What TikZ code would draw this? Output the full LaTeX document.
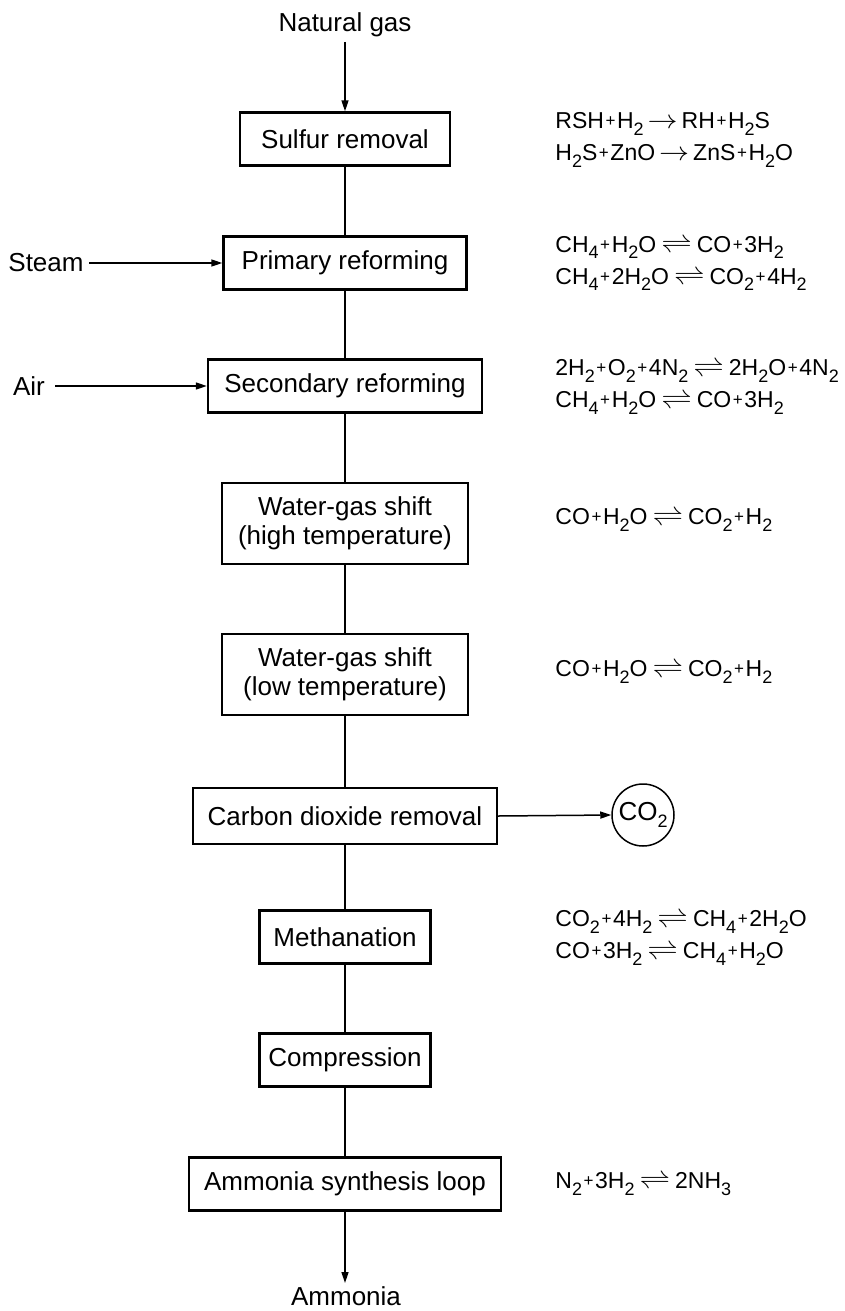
\documentclass[tikz,border=0pt]{standalone}
\usepackage{fontspec}
\setmainfont{Liberation Sans}
\usetikzlibrary{arrows.meta}
\newcommand{\chs}[1]{\raisebox{-0.55ex}{\fontsize{9}{9}\selectfont #1}}
\newcommand{\pl}{\hspace{0.8pt}\raisebox{0.15ex}{\fontsize{8.5}{8.5}\selectfont +}\hspace{0.8pt}}
\newcommand{\fwd}{\hspace{2pt}\scalebox{1.25}[1.1]{$\rightarrow$}\hspace{2pt}}
\newcommand{\eqm}{\hspace{2.5pt}\scalebox{1.3}[1.1]{$\rightleftharpoons$}\hspace{2.5pt}}
\tikzstyle{unit}=[draw, line width=1.2pt, font=\fontsize{13}{14.5}\selectfont, align=center, inner sep=0pt, minimum height=26.5pt]
\tikzstyle{txt}=[font=\fontsize{13}{14.5}\selectfont, inner sep=0pt]
\tikzstyle{rxn}=[anchor=west, align=left, font=\fontsize{11.5}{16}\selectfont, inner sep=0pt]
\tikzstyle{flow}=[line width=0.75pt]
\tikzstyle{feed}=[line width=0.75pt, -{Triangle[length=5.5pt,width=3.5pt]}]

\begin{document}
\begin{tikzpicture}[x=0.5pt, y=-0.5pt]
    \useasboundingbox (0,0) rectangle (845,1311);

    \node (gas) at (345,25) [txt] {Natural gas};
    \node (steam) at (46,263) [txt] {Steam};
    \node (air) at (29,386) [txt] {Air};
    \node (nh3) at (346,1296) [txt] {Ammonia};

    \node (sulf) at (345,139) [unit, minimum width=105pt] {Sulfur removal};
    \node (prim) at (345,263) [unit, minimum width=121.5pt] {Primary reforming};
    \node (sec) at (345,386) [unit, minimum width=137pt] {Secondary reforming};
    \node (hts) at (345,523.5) [unit, minimum width=123pt, minimum height=40.5pt] {Water-gas shift\\(high temperature)};
    \node (lts) at (345,674.5) [unit, minimum width=123pt, minimum height=40.5pt] {Water-gas shift\\(low temperature)};
    \node (cdr) at (345,816) [unit, minimum width=152pt, minimum height=28pt] {Carbon dioxide removal};
    \node (meth) at (345,937) [unit, minimum width=85.5pt] {Methanation};
    \node (comp) at (345,1060) [unit, minimum width=85.5pt] {Compression};
    \node (loop) at (345,1184) [unit, minimum width=156pt] {Ammonia synthesis loop};
    \node (co2) at (643,815) [circle, draw, line width=0.75pt, minimum size=31pt, inner sep=0pt, txt] {\raisebox{0.4ex}{CO\chs{2}}};

    \coordinate (gasend) at (345,42);
    \coordinate (steamend) at (89,263);
    \coordinate (airend) at (55,386);
    \coordinate (nh3end) at (345,1283);

    \draw (gasend) -- (sulf.north) [feed];
    \draw (steamend) -- (prim.west) [feed];
    \draw (airend) -- (sec.west) [feed];
    \draw (cdr.east) -- (co2.west) [feed];
    \draw (loop.south) -- (nh3end) [feed];

    \draw (sulf) -- (prim) [flow];
    \draw (prim) -- (sec) [flow];
    \draw (sec) -- (hts) [flow];
    \draw (hts) -- (lts) [flow];
    \draw (lts) -- (cdr) [flow];
    \draw (cdr) -- (meth) [flow];
    \draw (meth) -- (comp) [flow];
    \draw (comp) -- (loop) [flow];

    \node (r1) at (555,140) [rxn] {RSH\pl H\chs{2}\fwd RH\pl H\chs{2}S\\H\chs{2}S\pl ZnO\fwd ZnS\pl H\chs{2}O};
    \node (r2) at (555,263.5) [rxn] {CH\chs{4}\pl H\chs{2}O\eqm CO\pl 3H\chs{2}\\CH\chs{4}\pl 2H\chs{2}O\eqm CO\chs{2}\pl 4H\chs{2}};
    \node (r3) at (555,387) [rxn] {2H\chs{2}\pl O\chs{2}\pl 4N\chs{2}\eqm 2H\chs{2}O\pl 4N\chs{2}\\CH\chs{4}\pl H\chs{2}O\eqm CO\pl 3H\chs{2}};
    \node (r4) at (555,520) [rxn] {CO\pl H\chs{2}O\eqm CO\chs{2}\pl H\chs{2}};
    \node (r5) at (555,672) [rxn] {CO\pl H\chs{2}O\eqm CO\chs{2}\pl H\chs{2}};
    \node (r6) at (555,938) [rxn] {CO\chs{2}\pl 4H\chs{2}\eqm CH\chs{4}\pl 2H\chs{2}O\\CO\pl 3H\chs{2}\eqm CH\chs{4}\pl H\chs{2}O};
    \node (r7) at (555,1184) [rxn] {N\chs{2}\pl 3H\chs{2}\eqm 2NH\chs{3}};
\end{tikzpicture}
\end{document}
